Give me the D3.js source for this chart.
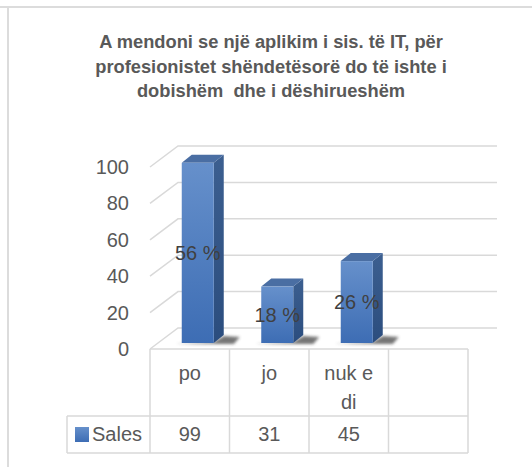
<!DOCTYPE html>
<html>
<head>
<meta charset="utf-8">
<script src="https://cdn.jsdelivr.net/npm/d3@7"></script>
<style>
  body { margin: 0; background: #fff; }
  svg { display: block; font-family: "Liberation Sans", Arial, sans-serif; }
</style>
</head>
<body>
<script>
// data
var categories = ["po", "jo", "nuk e di", ""];
var sales = [99, 31, 45];
var percentLabels = ["56 %", "18 %", "26 %"];
var yTicks = [0, 20, 40, 60, 80, 100];
var titleLines = [
  "A mendoni se një aplikim i sis. të IT, për",
  "profesionistet shëndetësorë do të ishte i",
  "dobishëm  dhe i dëshirueshëm"
];
var seriesName = "Sales";

var W = 532, H = 467;
var depthX = 28, depthY = -21;   // wall depth
var barShiftX = 8, barShiftY = -6; // bars sit a bit behind the front
var barDX = 10, barDY = -8;      // bar own depth
var grid = "#d9d9d9", txt = "#595959";

var svg = d3.select("body").append("svg")
    .attr("width", W)
    .attr("height", H);

var defs = svg.append("defs");
var g1 = defs.append("linearGradient").attr("id", "front")
    .attr("x1", 0).attr("y1", 0).attr("x2", 0).attr("y2", 1);
g1.append("stop").attr("offset", "0%").attr("stop-color", "#6690cb");
g1.append("stop").attr("offset", "100%").attr("stop-color", "#3d6db4");
var g2 = defs.append("linearGradient").attr("id", "side")
    .attr("x1", 0).attr("y1", 0).attr("x2", 0).attr("y2", 1);
g2.append("stop").attr("offset", "0%").attr("stop-color", "#3c5f90");
g2.append("stop").attr("offset", "100%").attr("stop-color", "#2b4d7e");
defs.append("filter").attr("id", "blur")
    .attr("x", "-50%").attr("y", "-50%").attr("width", "200%").attr("height", "200%")
  .append("feGaussianBlur").attr("stdDeviation", 1.6);

// outer frame (only top and left edges visible)
svg.append("line").attr("x1", 0).attr("x2", W).attr("y1", 7).attr("y2", 7)
    .attr("stroke", "#dcdcdc").attr("stroke-width", 2);
svg.append("line").attr("x1", 8).attr("x2", 8).attr("y1", 7).attr("y2", H)
    .attr("stroke", "#dcdcdc").attr("stroke-width", 2);

// title
svg.append("text")
    .attr("x", 271).attr("y", 48)
    .attr("text-anchor", "middle")
    .attr("fill", txt)
    .style("font-size", "18.3px")
    .style("font-weight", "bold")
    .style("white-space", "pre")
    .selectAll("tspan")
    .data(titleLines)
    .enter().append("tspan")
    .attr("x", 271)
    .attr("dy", function (d, i) { return i === 0 ? 0 : 24.5; })
    .text(function (d) { return d; });

// scales
var x = d3.scaleBand().domain(categories).range([150, 468]).padding(0);
var y = d3.scaleLinear().domain([0, 100]).range([349, 167]);
var backRight = 497;

// gridlines: left wall diagonal + back wall
var gl = svg.append("g").attr("fill", "none").attr("stroke", grid).attr("stroke-width", 1.5);
yTicks.forEach(function (t) {
  gl.append("polyline")
      .attr("points", [
        [150, y(t)], [150 + depthX, y(t) + depthY], [backRight, y(t) + depthY]
      ].join(" "));
});

// y axis labels
svg.append("g")
    .attr("transform", "translate(129,0)")
    .call(d3.axisLeft(y).tickValues(yTicks).tickSize(0).tickPadding(0))
    .call(function (g) { g.select(".domain").remove(); })
    .selectAll("text")
    .attr("fill", txt)
    .style("font-size", "20px")
    .style("font-family", "Liberation Sans, Arial, sans-serif");

// bars
var barW = 32;
var bars = svg.append("g").selectAll("g")
    .data(sales)
    .enter().append("g");

function fx(d, i) { return x(categories[i]) + x.bandwidth() / 2 + barShiftX - barW / 2; }
function barBase() { return y(0) + barShiftY; }
function barTop(d) { return y(d) + barShiftY; }

// floor shadows
bars.append("path")
    .attr("d", function (d, i) {
      var x0 = fx(d, i), b = barBase();
      return "M" + (x0 - 6) + "," + (b + 1) + "L" + (x0 + barW + 20) + "," + (b + 1)
        + "L" + (x0 + barW + 26) + "," + (b - 6) + "L" + (x0 + barW + barDX) + "," + (b - 7)
        + "L" + (x0 + barW) + "," + (b - 1) + "Z";
    })
    .attr("fill", "#3a3a3a")
    .attr("opacity", 0.7)
    .attr("filter", "url(#blur)");

bars.append("path")
    .attr("d", function (d, i) {
      var x0 = fx(d, i) + barW, t = barTop(d), b = barBase();
      return "M" + x0 + "," + t + "L" + (x0 + barDX) + "," + (t + barDY)
        + "L" + (x0 + barDX) + "," + (b + barDY) + "L" + x0 + "," + b + "Z";
    })
    .attr("fill", "url(#side)");

bars.append("path")
    .attr("d", function (d, i) {
      var x0 = fx(d, i), t = barTop(d);
      return "M" + x0 + "," + t + "L" + (x0 + barDX) + "," + (t + barDY)
        + "L" + (x0 + barW + barDX) + "," + (t + barDY) + "L" + (x0 + barW) + "," + t + "Z";
    })
    .attr("fill", "#4a6ea3");

bars.append("rect")
    .attr("x", fx)
    .attr("y", barTop)
    .attr("width", barW)
    .attr("height", function (d) { return barBase() - barTop(d); })
    .attr("fill", "url(#front)");

// percent labels
bars.append("text")
    .attr("x", function (d, i) { return fx(d, i) + barW / 2; })
    .attr("y", function (d) { return (barTop(d) + barBase()) / 2; })
    .attr("dy", "0.35em")
    .attr("text-anchor", "middle")
    .attr("fill", "#404040")
    .style("font-size", "20px")
    .text(function (d, i) { return percentLabels[i]; });

// data table
var tbl = svg.append("g").attr("fill", "none").attr("stroke", grid).attr("stroke-width", 1.5);
var rowTop = 349, rowMid = 416, rowBot = 453, legLeft = 67;
tbl.append("line").attr("x1", 150).attr("x2", 468).attr("y1", rowTop).attr("y2", rowTop);
tbl.append("line").attr("x1", legLeft).attr("x2", 468).attr("y1", rowMid).attr("y2", rowMid);
tbl.append("line").attr("x1", legLeft).attr("x2", 468).attr("y1", rowBot).attr("y2", rowBot);
tbl.append("line").attr("x1", legLeft).attr("x2", legLeft).attr("y1", rowMid).attr("y2", rowBot);
categories.forEach(function (c) {
  tbl.append("line").attr("x1", x(c)).attr("x2", x(c)).attr("y1", rowTop).attr("y2", rowBot);
});
tbl.append("line").attr("x1", 468).attr("x2", 468).attr("y1", rowTop).attr("y2", rowBot);

// category names
var catText = svg.append("g")
    .attr("fill", txt)
    .attr("text-anchor", "middle")
    .style("font-size", "20px");
categories.forEach(function (c) {
  var cx = x(c) + x.bandwidth() / 2;
  var parts = c === "nuk e di" ? ["nuk e", "di"] : [c];
  parts.forEach(function (p, j) {
    catText.append("text")
        .attr("x", cx)
        .attr("y", 380 + j * 29)
        .text(p);
  });
});

// values row
sales.forEach(function (v, i) {
  catText.append("text")
      .attr("x", x(categories[i]) + x.bandwidth() / 2)
      .attr("y", 441)
      .text(v);
});

// legend key
svg.append("rect")
    .attr("x", 75).attr("y", 427).attr("width", 14).attr("height", 15)
    .attr("fill", "url(#front)");
svg.append("text")
    .attr("x", 92).attr("y", 441)
    .attr("fill", txt)
    .style("font-size", "20px")
    .text(seriesName);
</script>
</body>
</html>
